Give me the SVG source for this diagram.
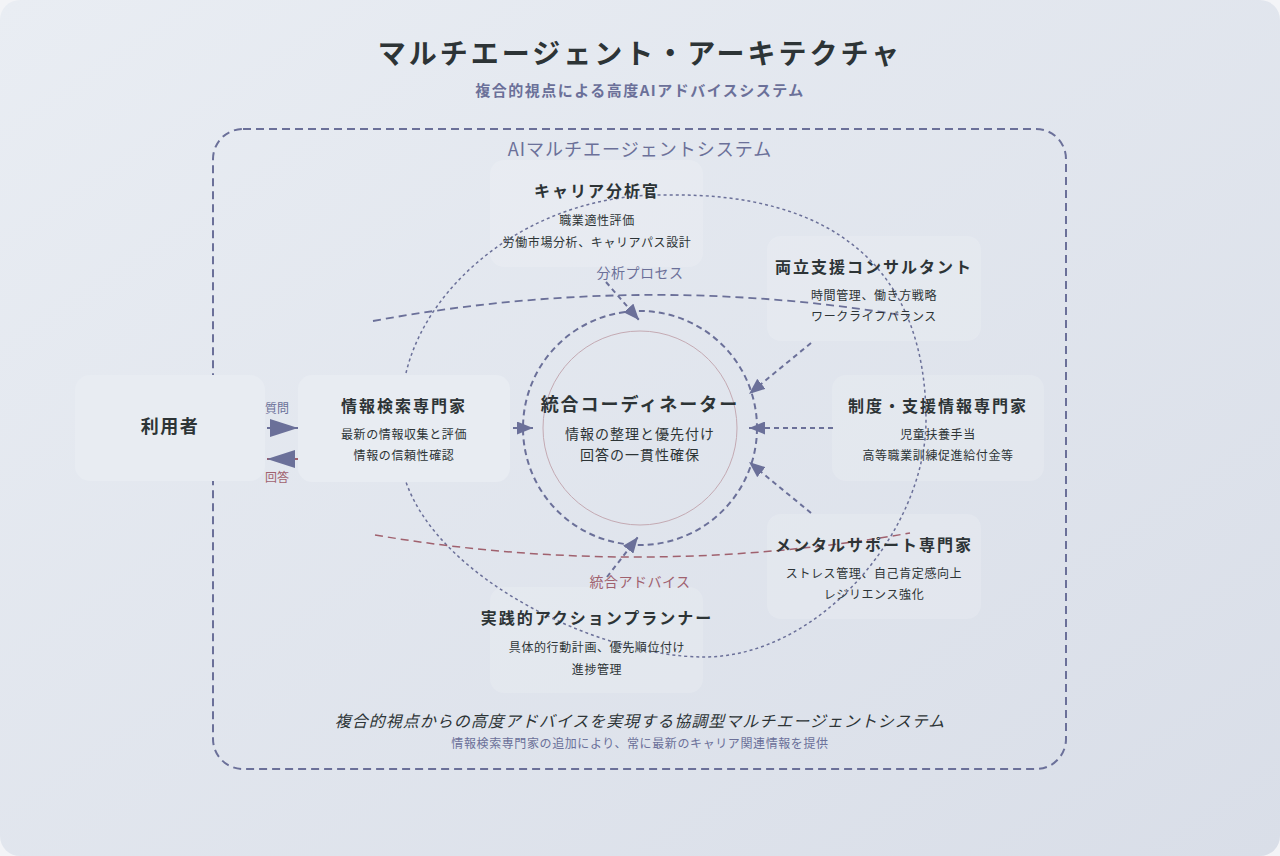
<svg xmlns="http://www.w3.org/2000/svg" width="1280" height="856" viewBox="0 0 1280 856">
<defs>
<linearGradient id="bg" x1="0" y1="0" x2="1" y2="1">
<stop offset="0" stop-color="#e9edf3"/>
<stop offset="1" stop-color="#d9dee8"/>
</linearGradient>
<marker id="arr" viewBox="0 0 16 13" refX="16" refY="6.5" markerWidth="16" markerHeight="13" markerUnits="userSpaceOnUse" orient="auto">
<path d="M0,0 L16,6.5 L0,13 z" fill="#6b7099"/>
</marker>
<marker id="big" viewBox="0 0 28 18" refX="28" refY="9" markerWidth="28" markerHeight="18" markerUnits="userSpaceOnUse" orient="auto">
<path d="M0,0 L28,9 L0,18 z" fill="#6b7099"/>
</marker>
<style>
text{font-family:"Noto Sans CJK JP","Noto Sans",sans-serif;text-anchor:middle;fill:#2d3436}
.h{font-size:16px;font-weight:bold;letter-spacing:2px}
.d{font-size:12px;letter-spacing:0.6px}
.box{fill:#ffffff;fill-opacity:0.15}
.sbox{fill:#e8ecf2}
.flow{fill:none;stroke:#6b7099;stroke-width:2;stroke-dasharray:5 4}
.blue{fill:#6b7099}
.red{fill:#a0616e}
</style>
</defs>
<rect width="1280" height="856" fill="#f3f4f7"/>
<rect x="0" y="0" width="1280" height="856" rx="20" fill="url(#bg)"/>
<text x="640" y="64" style="font-size:28px;font-weight:bold;letter-spacing:3px">マルチエージェント・アーキテクチャ</text>
<text x="640" y="96" class="blue" style="font-size:15px;font-weight:bold;letter-spacing:1.5px">複合的視点による高度AIアドバイスシステム</text>
<g id="system">
<rect x="213" y="129" width="853" height="640" rx="30" fill="none" stroke="#6b7099" stroke-width="2" stroke-dasharray="8 5"/>
<text x="640" y="156" class="blue" style="font-size:18px;letter-spacing:1px">AIマルチエージェントシステム</text>
</g>
<g id="agent-boxes">
<rect x="490" y="160" width="213" height="107" rx="14" class="box"/>
<rect x="767" y="236" width="214" height="105" rx="14" class="box"/>
<rect x="832" y="375" width="212" height="106" rx="14" class="box"/>
<rect x="767" y="514" width="214" height="105" rx="14" class="box"/>
<rect x="490" y="587" width="213" height="106" rx="14" class="box"/>
</g>
<g id="connectors">
<path d="M406,373 C428,280 535,193 666,195 C835,192 926,270 926,420 C926,530 820,657 704,657 C600,657 440,580 406,482" fill="none" stroke="#6b7099" stroke-width="1.5" stroke-dasharray="3 3"/>
<path d="M373,321 Q640,272 900,315" fill="none" stroke="#6b7099" stroke-width="1.8" stroke-dasharray="8 5"/>
<path d="M375,535 Q640,580 910,533" fill="none" stroke="#a0616e" stroke-width="1.5" stroke-dasharray="8 5"/>
<circle cx="640" cy="428" r="117" fill="none" stroke="#6b7099" stroke-width="2" stroke-dasharray="6 4"/>
<circle cx="640" cy="428" r="97" fill="none" stroke="#c4aab3" stroke-width="1"/>
<line x1="606" y1="282" x2="639" y2="320" class="flow" marker-end="url(#arr)"/>
<line x1="811" y1="343" x2="749" y2="394" class="flow" marker-end="url(#arr)"/>
<line x1="833" y1="428" x2="749" y2="428" class="flow" marker-end="url(#arr)"/>
<line x1="811" y1="513" x2="749" y2="462" class="flow" marker-end="url(#arr)"/>
<line x1="607" y1="577" x2="638" y2="537" class="flow" marker-end="url(#arr)"/>
<line x1="513" y1="428" x2="533" y2="428" class="flow" marker-end="url(#arr)"/>
<line x1="267" y1="428" x2="298" y2="428" stroke="#6b7099" stroke-width="2" marker-end="url(#big)"/>
<line x1="298" y1="459" x2="267" y2="459" stroke="#a0616e" stroke-width="2" marker-end="url(#big)"/>
<text x="277" y="412.5" class="blue" style="font-size:12px">質問</text>
<text x="277" y="481.5" class="red" style="font-size:12px">回答</text>
<text x="640" y="278" class="blue" style="font-size:14px;letter-spacing:0.5px">分析プロセス</text>
<text x="640" y="587" class="red" style="font-size:14px;letter-spacing:0.5px">統合アドバイス</text>
</g>
<g id="user">
<rect x="75" y="375" width="190" height="106" rx="15" class="sbox"/>
<text x="170" y="433" style="font-size:18px;font-weight:bold;letter-spacing:1.5px">利用者</text>
</g>
<g id="info-search">
<rect x="298" y="375" width="212" height="107" rx="14" class="sbox"/>
<text x="404" y="412" class="h">情報検索専門家</text>
<text x="404" y="438.5" class="d">最新の情報収集と評価</text>
<text x="404" y="459.5" class="d">情報の信頼性確認</text>
</g>
<g id="coordinator">
<text x="640" y="411" style="font-size:18px;font-weight:bold;letter-spacing:2px">統合コーディネーター</text>
<text x="640" y="439" style="font-size:14px;letter-spacing:1px">情報の整理と優先付け</text>
<text x="640" y="460" style="font-size:14px;letter-spacing:1px">回答の一貫性確保</text>
</g>
<g id="career">
<text x="597" y="197" class="h">キャリア分析官</text>
<text x="597" y="224.5" class="d">職業適性評価</text>
<text x="597" y="246.5" class="d">労働市場分析、キャリアパス設計</text>
</g>
<g id="balance">
<text x="874" y="273" class="h">両立支援コンサルタント</text>
<text x="874" y="299.5" class="d">時間管理、働き方戦略</text>
<text x="874" y="320.5" class="d">ワークライフバランス</text>
</g>
<g id="system-info">
<text x="938" y="412" class="h">制度・支援情報専門家</text>
<text x="938" y="438.5" class="d">児童扶養手当</text>
<text x="938" y="459.5" class="d">高等職業訓練促進給付金等</text>
</g>
<g id="mental">
<text x="874" y="551" class="h">メンタルサポート専門家</text>
<text x="874" y="577.5" class="d">ストレス管理、自己肯定感向上</text>
<text x="874" y="598.5" class="d">レジリエンス強化</text>
</g>
<g id="action">
<text x="597" y="624" class="h">実践的アクションプランナー</text>
<text x="597" y="651.5" class="d">具体的行動計画、優先順位付け</text>
<text x="597" y="673.5" class="d">進捗管理</text>
</g>
<g id="footer">
<text x="640" y="727" style="font-size:16px;font-style:italic;letter-spacing:1px">複合的視点からの高度アドバイスを実現する協調型マルチエージェントシステム</text>
<text x="640" y="747.5" class="blue" style="font-size:12px;letter-spacing:0.6px">情報検索専門家の追加により、常に最新のキャリア関連情報を提供</text>
</g>
</svg>
